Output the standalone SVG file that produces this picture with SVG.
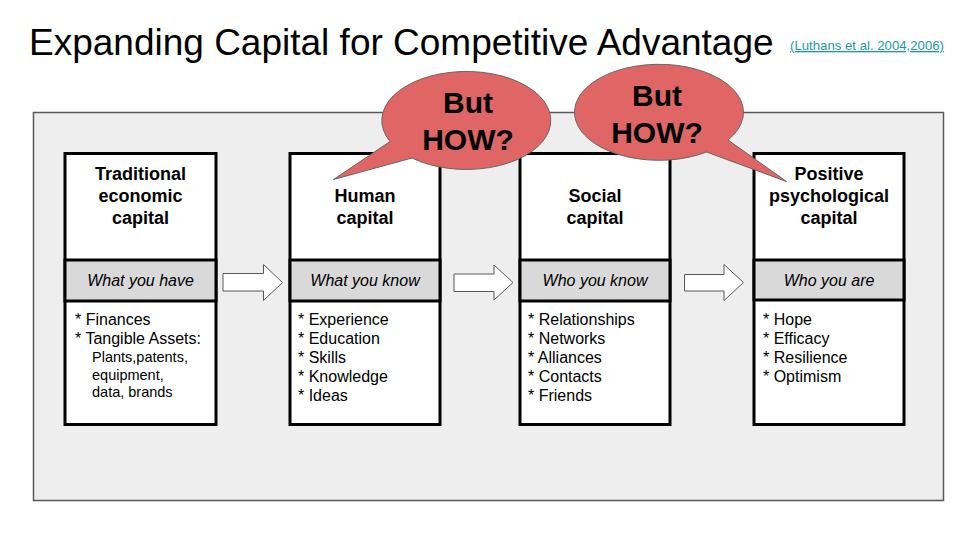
<svg xmlns="http://www.w3.org/2000/svg" width="960" height="540" viewBox="0 0 960 540">
<style>
text{font-family:"Liberation Sans",Arial,sans-serif;fill:#000}
.title{font-size:37px}
.cite{font-size:13.2px;fill:#1a9aa8;text-decoration:underline}
.box{fill:#fff;stroke:#000;stroke-width:3}
.band{fill:#d9d9d9;stroke:#000;stroke-width:3}
.hd{font-size:18px;font-weight:bold;text-anchor:middle}
.lb{font-size:16px;font-style:italic;text-anchor:middle}
.li{font-size:16px}
.sm{font-size:14.5px}
.arr{fill:#fff;stroke:#595959;stroke-width:1}
.bub{fill:#e06666;stroke:#666;stroke-width:1}
.bt{font-size:30px;font-weight:bold;text-anchor:middle}
</style>
<rect width="960" height="540" fill="#fff"/>
<text class="title" x="29" y="55">Expanding Capital for Competitive Advantage</text>
<text class="cite" x="790" y="50">(Luthans et al. 2004,2006)</text>
<rect x="33.5" y="112.5" width="910" height="388" fill="#eeeeee" stroke="#595959" stroke-width="1.5"/>

<g id="connectors">
<path class="arr" d="M223,273.5 H263.5 V264.5 L282.5,282.5 L263.5,300.5 V291 H223 Z"/>
<path class="arr" d="M454,274 H494 V265 L513,282.5 L494,300 V291.5 H454 Z"/>
<path class="arr" d="M684.5,274.5 H724 V264.5 L743.5,282.5 L724,300.5 V291 H684.5 Z"/>
</g>

<g id="node-traditional">
<rect class="box" x="65" y="153.5" width="151" height="271"/>
<rect class="band" x="65" y="260" width="151" height="41"/>
<text class="hd" x="140.5" y="179.5">Traditional</text>
<text class="hd" x="140.5" y="201.5">economic</text>
<text class="hd" x="140.5" y="223.5">capital</text>
<text class="lb" x="140.5" y="285.5">What you have</text>
<text class="li" x="75" y="325">* Finances</text>
<text class="li" x="75" y="344">* Tangible Assets:</text>
<text class="sm" x="92" y="362">Plants,patents,</text>
<text class="sm" x="92" y="379.5">equipment,</text>
<text class="sm" x="92" y="397">data, brands</text>
</g>

<g id="node-human">
<rect class="box" x="290" y="153.5" width="150" height="271"/>
<rect class="band" x="290" y="260" width="150" height="41"/>
<text class="hd" x="365" y="201.5">Human</text>
<text class="hd" x="365" y="223.5">capital</text>
<text class="lb" x="365" y="285.5">What you know</text>
<text class="li" x="298" y="325">* Experience</text>
<text class="li" x="298" y="344">* Education</text>
<text class="li" x="298" y="363">* Skills</text>
<text class="li" x="298" y="382">* Knowledge</text>
<text class="li" x="298" y="401">* Ideas</text>
</g>

<g id="node-social">
<rect class="box" x="520" y="153.5" width="150" height="271"/>
<rect class="band" x="520" y="260" width="150" height="41"/>
<text class="hd" x="595" y="201.5">Social</text>
<text class="hd" x="595" y="223.5">capital</text>
<text class="lb" x="595" y="285.5">Who you know</text>
<text class="li" x="528" y="325">* Relationships</text>
<text class="li" x="528" y="344">* Networks</text>
<text class="li" x="528" y="363">* Alliances</text>
<text class="li" x="528" y="382">* Contacts</text>
<text class="li" x="528" y="401">* Friends</text>
</g>

<g id="node-psycap">
<rect class="box" x="754" y="153.5" width="150" height="271"/>
<rect class="band" x="754" y="260" width="150" height="40"/>
<text class="hd" x="829" y="179.5">Positive</text>
<text class="hd" x="829" y="201.5">psychological</text>
<text class="hd" x="829" y="223.5">capital</text>
<text class="lb" x="829" y="285.5">Who you are</text>
<text class="li" x="763" y="325">* Hope</text>
<text class="li" x="763" y="344">* Efficacy</text>
<text class="li" x="763" y="363">* Resilience</text>
<text class="li" x="763" y="382">* Optimism</text>
</g>

<g id="bubble-1">
<path class="bub" d="M390,141.5 A84.5,49 0 1 1 412,158 L333.5,179.5 Z"/>
<text class="bt" x="468" y="113">But</text>
<text class="bt" x="468" y="150">HOW?</text>
</g>

<g id="bubble-2">
<path class="bub" d="M706.5,152 A84.5,48 0 1 1 728,140 L786.5,181.5 Z"/>
<text class="bt" x="657" y="106">But</text>
<text class="bt" x="657" y="143">HOW?</text>
</g>
</svg>
